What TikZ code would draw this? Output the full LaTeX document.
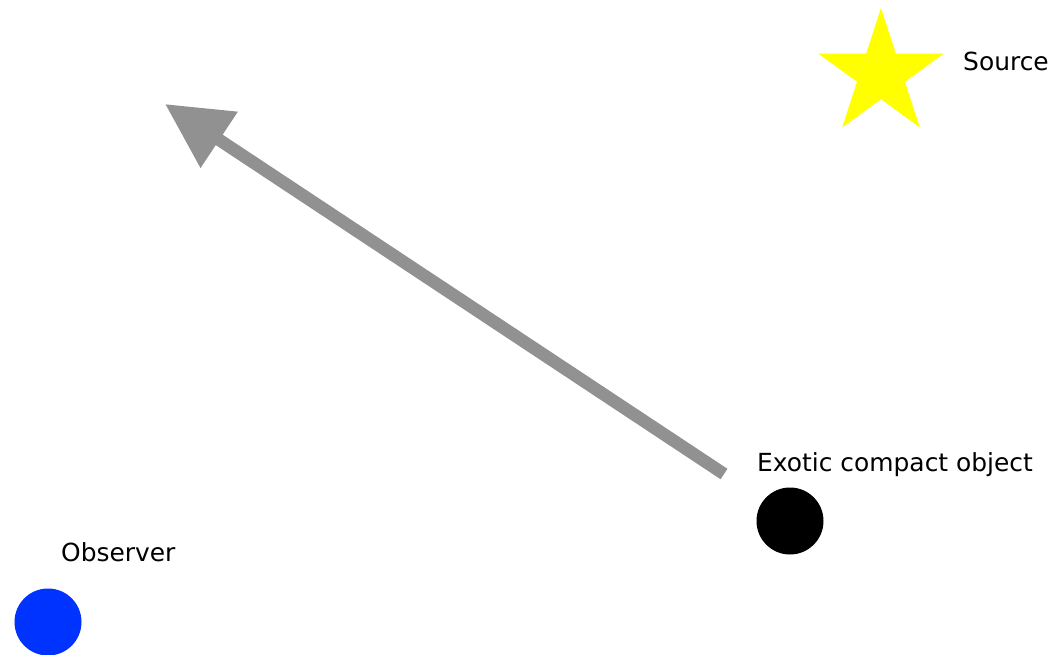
\documentclass[tikz,border=0pt]{standalone}
\usepackage{fontspec}
\setmainfont{DejaVu Sans}
\usepackage{tikz}
\usetikzlibrary{shapes.geometric, arrows.meta, positioning}

\definecolor{raygray}{RGB}{145,145,145}
\definecolor{obsblue}{RGB}{0,51,255}
\definecolor{srcyellow}{RGB}{255,255,0}

\begin{document}
\begin{tikzpicture}[
  x=1bp, y=-1bp,
  body/.style={circle, inner sep=0pt, minimum size=67bp},
  label/.style={anchor=base west, inner sep=0pt, font=\fontsize{25}{30}\selectfont},
  ray/.style={-{Triangle[length=65bp, width=64bp]}, line width=12.5bp, draw=raygray}
]
\useasboundingbox (0,0) rectangle (1055,655);

\node[star, star points=5, star point ratio=2.618, minimum size=132bp, inner sep=0pt, fill=srcyellow] (src) at (881,74) {};
\node[label] (srclab) at (963,71) {Source};

\node[body, fill=black] (eco) at (790,521) {};
\node[label] (ecolab) at (757,471) {Exotic compact object};

\node[body, fill=obsblue] (obs) at (48,622) {};
\node[label] (obslab) at (61,561) {Observer};

\coordinate (raystart) at (724,474);
\coordinate (rayend) at (165,104);
\draw[ray] (raystart) -- (rayend);

\end{tikzpicture}
\end{document}
